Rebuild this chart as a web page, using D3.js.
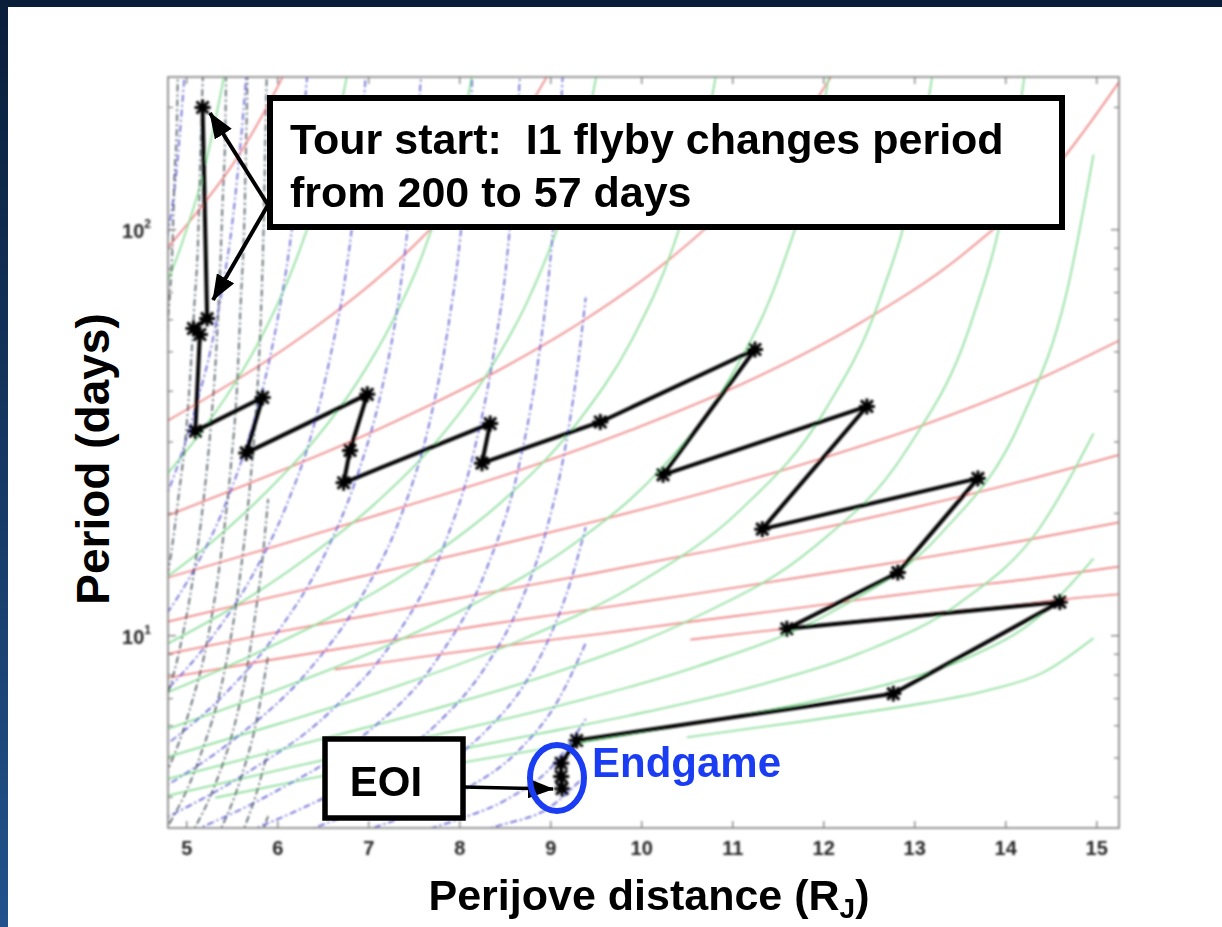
<!DOCTYPE html>
<html>
<head>
<meta charset="utf-8">
<script src="https://d3js.org/d3.v7.min.js"></script>
<style>
  html, body { margin: 0; padding: 0; background: #fff; }
  svg { display: block; }
  text { font-family: "Liberation Sans", Arial, Helvetica, sans-serif; }
</style>
</head>
<body>
<svg id="chart" width="1222" height="927"></svg>
<script>
// ---- Axis ticks -------------------------------------------------------------
const xTickValues = [5, 6, 7, 8, 9, 10, 11, 12, 13, 14, 15];
const yMajorTicks = [10, 100];
const yMajorExponents = ["1", "2"];
const yMinorTicks = [4, 5, 6, 7, 8, 9, 20, 30, 40, 50, 60, 70, 80, 90, 200];

// ---- Constant v-infinity contours, [perijove (R_J), period (days)] --------
// Io (1 km/s steps, 3..11 km/s)
const ioContours = [
  [[5.83,3.20],[5.86,3.39],[5.90,3.59]],
  [[5.60,3.20],[5.77,4.08],[5.90,5.23]],
  [[5.34,3.20],[5.60,4.45],[5.78,6.28],[5.90,8.93]],
  [[5.04,3.20],[5.32,4.31],[5.52,5.89],[5.66,8.13],[5.76,11.3],[5.84,15.6],[5.90,21.7]],
  [[4.73,3.20],[5.15,5.03],[5.42,8.16],[5.58,13.4],[5.69,22.1],[5.77,36.6],[5.82,60.5],[5.85,100],[5.87,166],[5.89,274]],
  [[4.70,4.18],[5.03,6.48],[5.25,10.2],[5.39,16.3],[5.49,26.1],[5.56,41.7],[5.60,66.8],[5.64,107],[5.66,171],[5.68,274]],
  [[4.70,6.18],[4.93,9.30],[5.08,14.1],[5.19,21.5],[5.27,32.8],[5.33,50.2],[5.37,76.7],[5.40,117],[5.43,180],[5.44,274]],
  [[4.70,11.0],[4.83,15.7],[4.92,22.4],[5.00,32.0],[5.05,45.7],[5.09,65.4],[5.13,93.6],[5.15,134],[5.17,192],[5.19,274]],
  [[4.70,31.1],[4.76,44.7],[4.81,64.2],[4.85,92.3],[4.87,133],[4.90,191],[4.91,274]]
];
// Europa (1..13 km/s)
const europaContours = [
  [[7.92,3.20],[8.46,3.42],[8.98,3.76],[9.39,4.54]],
  [[7.36,3.20],[7.96,3.51],[8.53,3.96],[9.03,4.79],[9.39,6.23]],
  [[6.75,3.20],[7.42,3.60],[8.07,4.19],[8.64,5.18],[9.08,6.89],[9.39,9.59]],
  [[6.14,3.20],[6.72,3.58],[7.29,4.08],[7.83,4.79],[8.31,5.88],[8.71,7.55],[9.00,10.0],[9.22,13.5],[9.39,18.5]],
  [[5.53,3.20],[6.31,3.79],[7.06,4.64],[7.74,6.02],[8.29,8.39],[8.69,12.3],[8.97,18.6],[9.16,28.6],[9.29,44.0],[9.39,68.0]],
  [[4.93,3.20],[5.97,4.12],[6.95,5.68],[7.75,8.70],[8.30,14.6],[8.65,25.8],[8.86,46.3],[9.00,83.7],[9.09,152],[9.15,275]],
  [[4.70,3.49],[5.67,4.60],[6.57,6.46],[7.30,9.92],[7.82,16.4],[8.16,28.3],[8.38,49.7],[8.53,87.6],[8.62,155],[8.68,275]],
  [[4.70,4.16],[5.55,5.61],[6.31,8.04],[6.92,12.4],[7.37,20.0],[7.67,33.2],[7.87,56.0],[8.01,95.1],[8.10,161],[8.16,275]],
  [[4.70,5.22],[5.42,7.17],[6.03,10.4],[6.52,15.8],[6.88,24.8],[7.14,39.6],[7.32,64.0],[7.44,104],[7.53,169],[7.60,275]],
  [[4.70,7.02],[5.26,9.75],[5.73,14.1],[6.10,20.9],[6.38,31.5],[6.58,48.3],[6.74,74.3],[6.85,115],[6.93,177],[6.99,275]],
  [[4.70,10.6],[5.09,14.6],[5.41,20.5],[5.66,29.3],[5.86,42.2],[6.01,61.1],[6.13,88.8],[6.22,129],[6.29,188],[6.35,275]],
  [[4.70,19.9],[4.93,27.2],[5.12,37.6],[5.28,52.0],[5.40,72.4],[5.50,101],[5.57,141],[5.63,197],[5.68,275]],
  [[4.70,69.0],[4.80,97.3],[4.89,137],[4.95,195],[5.00,275]]
];
// Ganymede (1..12 km/s)
const ganymedeContours = [
  [[10.50,5.62],[11.16,5.89],[11.82,6.17],[12.48,6.49],[13.14,6.84],[13.79,7.32],[14.42,8.12],[14.97,9.86]],
  [[7.48,4.64],[8.36,5.01],[9.24,5.41],[10.12,5.83],[11.00,6.31],[11.87,6.88],[12.74,7.63],[13.59,8.82],[14.36,11.1],[14.97,15.5]],
  [[5.32,3.99],[6.51,4.52],[7.70,5.09],[8.89,5.74],[10.07,6.50],[11.25,7.51],[12.41,9.06],[13.49,12.0],[14.37,18.3],[14.97,31.5]],
  [[4.70,3.99],[6.19,4.76],[7.68,5.65],[9.16,6.78],[10.63,8.42],[12.05,11.3],[13.29,17.8],[14.17,33.8],[14.68,70.8],[14.97,153]],
  [[4.70,4.38],[6.18,5.34],[7.67,6.54],[9.13,8.22],[10.56,11.0],[11.88,16.4],[12.93,29.0],[13.62,58.6],[14.02,126],[14.25,275]],
  [[4.70,4.95],[6.04,6.09],[7.38,7.59],[8.69,9.78],[9.95,13.4],[11.09,20.4],[12.00,35.3],[12.62,67.3],[13.01,135],[13.24,275]],
  [[4.70,5.79],[5.89,7.20],[7.06,9.14],[8.20,12.1],[9.27,16.9],[10.22,25.8],[10.98,43.3],[11.52,77.8],[11.88,145],[12.11,275]],
  [[4.70,7.10],[5.72,8.94],[6.71,11.5],[7.66,15.5],[8.53,22.0],[9.29,33.3],[9.90,53.7],[10.35,90.6],[10.66,157],[10.87,275]],
  [[4.70,9.31],[5.53,11.8],[6.32,15.5],[7.06,21.0],[7.73,29.7],[8.30,43.9],[8.76,67.4],[9.11,106],[9.37,170],[9.56,275]],
  [[4.70,13.5],[5.32,17.3],[5.89,22.7],[6.42,30.5],[6.88,42.1],[7.27,59.6],[7.59,86.0],[7.84,126],[8.04,185],[8.19,275]],
  [[4.70,23.7],[5.12,30.8],[5.50,40.7],[5.83,54.6],[6.11,74.3],[6.34,102],[6.54,141],[6.69,197],[6.82,275]],
  [[4.70,66.1],[4.96,93.4],[5.17,133],[5.33,191],[5.47,275]]
];
// Callisto (2..10 km/s)
const callistoContours = [
  [[10.54,9.78],[11.23,10.2],[11.92,10.6],[12.60,11.0],[13.29,11.4],[13.98,11.8],[14.66,12.3],[15.35,12.7]],
  [[6.63,8.26],[7.60,8.87],[8.57,9.49],[9.54,10.1],[10.51,10.8],[11.47,11.5],[12.44,12.3],[13.41,13.1],[14.38,13.9],[15.35,14.9]],
  [[4.70,7.81],[5.88,8.68],[7.07,9.59],[8.25,10.6],[9.44,11.6],[10.62,12.7],[11.81,14.0],[12.99,15.4],[14.17,17.1],[15.35,19.2]],
  [[4.70,8.93],[5.89,10.1],[7.08,11.3],[8.27,12.7],[9.45,14.2],[10.64,16.0],[11.83,18.1],[13.01,20.7],[14.18,24.0],[15.35,28.3]],
  [[4.70,10.7],[5.91,12.4],[7.11,14.3],[8.32,16.5],[9.52,19.2],[10.72,22.6],[11.91,27.0],[13.08,32.9],[14.23,41.5],[15.35,54.7]],
  [[4.70,13.7],[6.02,16.7],[7.31,20.5],[8.63,25.4],[9.92,32.3],[11.19,42.5],[12.40,58.8],[13.54,87.1],[14.54,141],[15.35,249]],
  [[4.70,19.4],[5.67,23.6],[6.63,28.9],[7.57,36.0],[8.50,45.9],[9.39,60.2],[10.24,82.1],[11.01,117],[11.69,175],[12.26,275]],
  [[4.70,32.9],[5.29,39.3],[5.87,47.3],[6.43,57.8],[6.97,71.6],[7.48,90.3],[7.95,116],[8.39,152],[8.78,203],[9.12,275]],
  [[4.70,85.2],[5.14,112],[5.54,148],[5.89,201],[6.20,275]]
];

// ---- Tour: perijove and period after each flyby ----------------------------
const tourPerijove = [5.18, 5.23, 5.08, 5.15, 5.10, 5.84, 5.66, 6.99, 6.80, 6.73, 8.34, 8.25, 9.55,
                      11.25, 10.24, 12.48, 11.33, 13.70, 12.82, 11.60, 14.60, 12.77, 9.29, 9.12, 9.12, 9.13];
const tourPeriod   = [200, 60.4, 57.1, 55.2, 31.9, 38.6, 28.2, 39.3, 28.6, 23.8, 33.3, 26.6, 33.6,
                      50.7, 24.9, 36.7, 18.3, 24.4, 14.3, 10.4, 12.1, 7.2, 5.52, 4.85, 4.50, 4.20];

// ---- Annotation text -------------------------------------------------------
const calloutLines = ["Tour start:  I1 flyby changes period", "from 200 to 57 days"];
const eoiLabel = "EOI";
const endgameLabel = "Endgame";

// ---- Layout ---------------------------------------------------------------
const W = 1222, H = 927;
const plot = { left: 168, right: 1119, top: 77, bottom: 828 };

const svg = d3.select("#chart");
const defs = svg.append("defs");

const grad = defs.append("linearGradient").attr("id", "edgeGrad")
  .attr("x1", 0).attr("y1", 0).attr("x2", 0).attr("y2", 1);
grad.append("stop").attr("offset", "0%").attr("stop-color", "#0a1e3a");
grad.append("stop").attr("offset", "100%").attr("stop-color", "#21528c");

defs.append("filter").attr("id", "soft").attr("x", "-5%").attr("y", "-5%").attr("width", "110%").attr("height", "110%")
  .append("feGaussianBlur").attr("stdDeviation", 0.8);

defs.append("clipPath").attr("id", "plotClip").append("rect")
  .attr("x", plot.left).attr("y", plot.top)
  .attr("width", plot.right - plot.left).attr("height", plot.bottom - plot.top);

defs.append("marker").attr("id", "head")
  .attr("viewBox", "0 0 26 20").attr("refX", 25).attr("refY", 10)
  .attr("markerWidth", 26).attr("markerHeight", 20)
  .attr("markerUnits", "userSpaceOnUse").attr("orient", "auto")
  .append("path").attr("d", "M0,0 L26,10 L0,20 Z").attr("fill", "#000");

// background and slide edges
svg.append("rect").attr("width", W).attr("height", H).attr("fill", "#fff");
svg.append("rect").attr("x", 0).attr("y", 0).attr("width", W).attr("height", 7).attr("fill", "#0a1e3a");
svg.append("rect").attr("x", 0).attr("y", 0).attr("width", 8).attr("height", H).attr("fill", "url(#edgeGrad)");

// ---- Scales ---------------------------------------------------------------
const x = d3.scaleLinear().domain([4.8, 15.25]).range([plot.left, plot.right]);
const y = d3.scaleLog().domain([3.36, 237.7]).range([plot.bottom, plot.top]);

const layer = svg.append("g").attr("filter", "url(#soft)");

// contour families
const line = d3.line().x(d => x(d[0])).y(d => y(d[1])).curve(d3.curveMonotoneX);
const curves = layer.append("g").attr("clip-path", "url(#plotClip)").attr("fill", "none");

curves.append("g").selectAll("path").data(callistoContours).join("path")
  .attr("d", line).attr("stroke", "#ec7b7b").attr("stroke-width", 1.6);
curves.append("g").selectAll("path").data(ganymedeContours).join("path")
  .attr("d", line).attr("stroke", "#82da92").attr("stroke-width", 1.6);
curves.append("g").selectAll("path").data(europaContours).join("path")
  .attr("d", line).attr("stroke", "#5252cc").attr("stroke-width", 1.5)
  .attr("stroke-dasharray", "7,3,2,3");
curves.append("g").selectAll("path").data(ioContours).join("path")
  .attr("d", line).attr("stroke", "#3e4a52").attr("stroke-width", 1.5)
  .attr("stroke-dasharray", "7,3,2,3");

// frame and ticks
const axisColor = "#7d7d7d";
layer.append("rect").attr("x", plot.left).attr("y", plot.top)
  .attr("width", plot.right - plot.left).attr("height", plot.bottom - plot.top)
  .attr("fill", "none").attr("stroke", axisColor).attr("stroke-width", 1.6);

const xAxisBottom = d3.axisBottom(x).tickValues(xTickValues).tickSize(-7).tickPadding(13).tickFormat(d3.format("d"));
const gxb = layer.append("g").attr("transform", `translate(0,${plot.bottom})`).call(xAxisBottom);
gxb.select(".domain").remove();
gxb.selectAll(".tick line").attr("stroke", axisColor).attr("stroke-width", 1.3);
gxb.selectAll(".tick text").attr("fill", "#262626").attr("font-size", 20).attr("font-weight", "bold")
  .attr("font-family", "Liberation Sans, Arial, sans-serif");

const xAxisTop = d3.axisTop(x).tickValues(xTickValues).tickSize(-7).tickFormat("");
const gxt = layer.append("g").attr("transform", `translate(0,${plot.top})`).call(xAxisTop);
gxt.select(".domain").remove();
gxt.selectAll(".tick line").attr("stroke", axisColor).attr("stroke-width", 1.3);

function yTicks(sel, side) {
  const dir = side === "left" ? 1 : -1;
  const x0 = side === "left" ? plot.left : plot.right;
  sel.selectAll(".maj").data(yMajorTicks).join("line")
    .attr("x1", x0).attr("x2", x0 + dir * 8).attr("y1", d => y(d)).attr("y2", d => y(d))
    .attr("stroke", axisColor).attr("stroke-width", 1.3);
  sel.selectAll(".min").data(yMinorTicks).join("line")
    .attr("x1", x0).attr("x2", x0 + dir * 5).attr("y1", d => y(d)).attr("y2", d => y(d))
    .attr("stroke", axisColor).attr("stroke-width", 1.2);
}
yTicks(layer.append("g"), "left");
yTicks(layer.append("g"), "right");

const yLab = layer.append("g").selectAll("text").data(yMajorTicks).join("text")
  .attr("x", 151).attr("y", d => y(d) + 8).attr("text-anchor", "end")
  .attr("font-size", 20).attr("font-weight", "bold").attr("fill", "#262626");
yLab.append("tspan").text("10");
yLab.append("tspan").attr("dy", -10).attr("font-size", 12).text((d, i) => yMajorExponents[i]);

// tour path
const tourPts = tourPerijove.map((r, i) => [r, tourPeriod[i]]);
const tourLine = d3.line().x(d => x(d[0])).y(d => y(d[1]));
layer.append("path").datum(tourPts).attr("d", tourLine)
  .attr("fill", "none").attr("stroke", "#000").attr("stroke-width", 4).attr("stroke-linejoin", "round");

const star = "M-8,0H8M0,-8V8M-6,-6L6,6M-6,6L6,-6";
layer.append("g").selectAll("path").data(tourPts).join("path")
  .attr("transform", d => `translate(${x(d[0])},${y(d[1])})`)
  .attr("d", star).attr("stroke", "#000").attr("stroke-width", 3).attr("fill", "none");

// ---- Annotations ------------------------------------------------------------
const ann = svg.append("g");
ann.append("line").attr("x1", 268).attr("y1", 205).attr("x2", 210).attr("y2", 113)
  .attr("stroke", "#000").attr("stroke-width", 4).attr("marker-end", "url(#head)");
ann.append("line").attr("x1", 268).attr("y1", 205).attr("x2", 213).attr("y2", 300)
  .attr("stroke", "#000").attr("stroke-width", 4).attr("marker-end", "url(#head)");

ann.append("rect").attr("x", 270).attr("y", 98).attr("width", 792).attr("height", 129)
  .attr("fill", "#fff").attr("stroke", "#000").attr("stroke-width", 6);
ann.append("text").attr("x", 290).attr("y", 0).attr("font-size", 43).attr("font-weight", "bold")
  .attr("fill", "#000").attr("xml:space", "preserve")
  .selectAll("tspan").data(calloutLines).join("tspan")
  .attr("x", 290).attr("y", (d, i) => 154 + i * 53).text(d => d);

// EOI
ann.append("line").attr("x1", 463).attr("y1", 787).attr("x2", 553).attr("y2", 789)
  .attr("stroke", "#000").attr("stroke-width", 3.5).attr("marker-end", "url(#head)");
ann.append("rect").attr("x", 325).attr("y", 739).attr("width", 138).attr("height", 79)
  .attr("fill", "#fff").attr("stroke", "#000").attr("stroke-width", 5.5);
ann.append("text").attr("x", 386).attr("y", 796).attr("text-anchor", "middle")
  .attr("font-size", 42).attr("font-weight", "bold").attr("fill", "#000").text(eoiLabel);

// Endgame
ann.append("ellipse").attr("cx", 557).attr("cy", 778).attr("rx", 27).attr("ry", 33)
  .attr("fill", "none").attr("stroke", "#1a3cf2").attr("stroke-width", 6);
ann.append("text").attr("x", 592).attr("y", 777).attr("font-size", 42).attr("font-weight", "bold")
  .attr("fill", "#1a3cf2").text(endgameLabel);

// axis titles
const xt = svg.append("text").attr("x", 649).attr("y", 910).attr("text-anchor", "middle")
  .attr("font-size", 43).attr("font-weight", "bold").attr("fill", "#000");
xt.append("tspan").text("Perijove distance (R");
xt.append("tspan").attr("font-size", 28).attr("dy", 8).text("J");
xt.append("tspan").attr("dy", -8).text(")");

svg.append("text").attr("transform", "translate(109,459) rotate(-90)").attr("text-anchor", "middle")
  .attr("font-size", 46).attr("font-weight", "bold").attr("fill", "#000").text("Period (days)");
</script>
</body>
</html>
